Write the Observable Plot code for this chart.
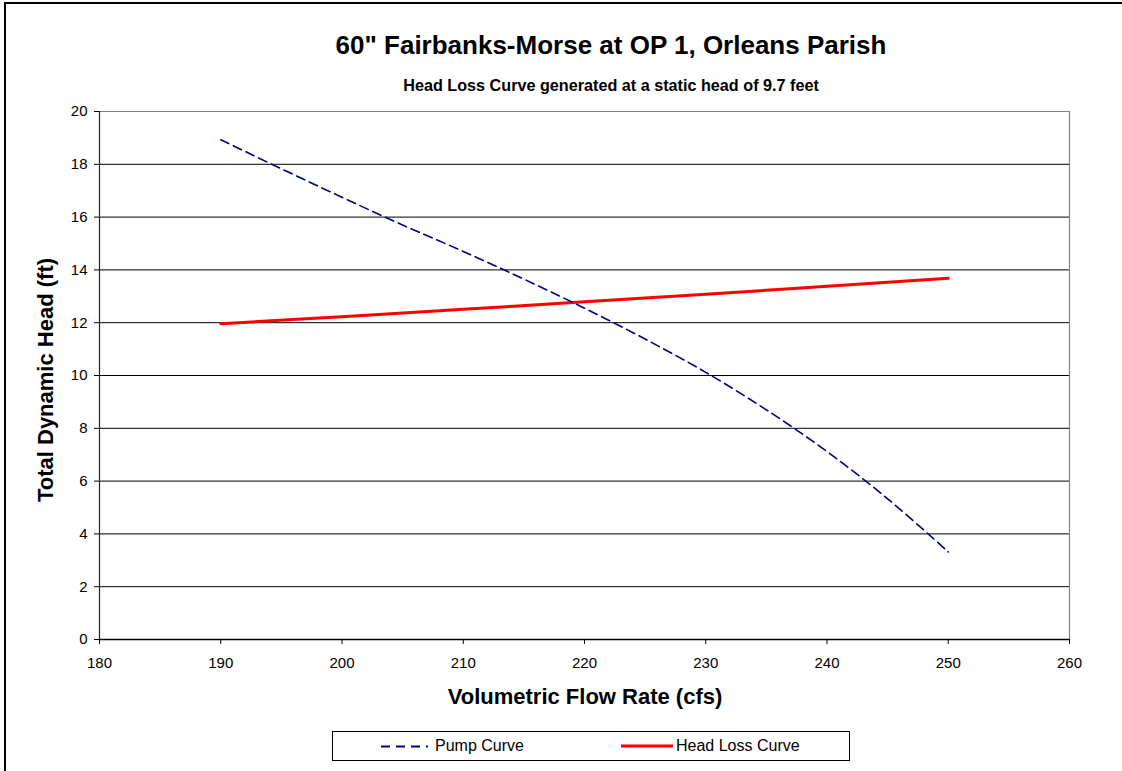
<!DOCTYPE html>
<html>
<head>
<meta charset="utf-8">
<script src="https://cdn.jsdelivr.net/npm/d3@7"></script>
<script src="https://cdn.jsdelivr.net/npm/@observablehq/plot@0.6"></script>
<style>
  html, body { margin: 0; padding: 0; background: #fff; overflow: hidden; }
  #wrap { position: relative; width: 1122px; height: 771px; font-family: "Liberation Sans", Arial, sans-serif; color: #000; overflow: hidden; }
  #frame { position: absolute; left: 4px; top: 2px; width: 1200px; height: 900px; border-top: 2px solid #000; border-left: 2px solid #000; }
  .title { position: absolute; left: 111px; width: 1000px; text-align: center; font-weight: bold; white-space: nowrap; }
  #t1 { top: 32px; font-size: 26px; line-height: 26px; }
  #t2 { top: 77px; font-size: 16.2px; line-height: 16px; }
  #xlab { position: absolute; left: 85px; width: 1000px; top: 686px; text-align: center; font-weight: bold; font-size: 22px; line-height: 22px; white-space: nowrap; }
  #ylab { position: absolute; left: -154px; top: 369px; width: 400px; height: 22px; text-align: center; font-weight: bold; font-size: 22px; line-height: 22px; transform: rotate(-90deg); white-space: nowrap; }
  #chart { position: absolute; left: 0; top: 95px; }
  #legend { position: absolute; left: 332px; top: 731px; width: 516px; height: 28px; border: 1px solid #000; font-size: 16px; }
  .lg { position: absolute; top: 0; height: 28px; line-height: 28px; white-space: nowrap; }
</style>
</head>
<body>
<div id="wrap">
  <div id="frame"></div>
  <div class="title" id="t1">60" Fairbanks-Morse at OP 1, Orleans Parish</div>
  <div class="title" id="t2">Head Loss Curve generated at a static head of 9.7 feet</div>
  <div id="chart"></div>
  <div id="xlab">Volumetric Flow Rate (cfs)</div>
  <div id="ylab">Total Dynamic Head (ft)</div>
  <div id="legend">
    <svg style="position:absolute;left:48px;top:0" width="48" height="28"><line x1="0" y1="14.5" x2="47" y2="14.5" stroke="#000080" stroke-width="1.8" stroke-dasharray="9,6"></line></svg>
    <div class="lg" style="left:102px">Pump Curve</div>
    <svg style="position:absolute;left:288px;top:0" width="52" height="28"><line x1="0" y1="14" x2="52" y2="14" stroke="#ff0000" stroke-width="3"></line></svg>
    <div class="lg" style="left:343px">Head Loss Curve</div>
  </div>
</div>
<script>
// Data
const xTicks = [180, 190, 200, 210, 220, 230, 240, 250, 260];
const yTicks = [0, 2, 4, 6, 8, 10, 12, 14, 16, 18, 20];

const pumpFlow = [190, 195, 200, 205, 210, 215, 220, 225, 230, 235, 240, 245, 250];
const pumpHead = [18.93, 17.83, 16.75, 15.7, 14.7, 13.65, 12.55, 11.38, 10.12, 8.7, 7.12, 5.33, 3.32];

const lossFlow = [190, 200, 210, 220, 230, 240, 250];
const lossHead = [11.96, 12.23, 12.51, 12.79, 13.08, 13.38, 13.68];

const pump = pumpFlow.map((f, i) => ({flow: f, head: pumpHead[i]}));
const loss = lossFlow.map((f, i) => ({flow: f, head: lossHead[i]}));

const chart = Plot.plot({
  width: 1122,
  height: 620,
  marginLeft: 99,
  marginRight: 53,
  marginTop: 16,
  marginBottom: 76,
  style: {fontFamily: '"Liberation Sans", Arial, sans-serif', fontSize: "15px", color: "#000", background: "transparent", overflow: "visible"},
  x: {domain: [180, 260], label: null},
  y: {domain: [0, 20], label: null},
  marks: [
    Plot.gridY(yTicks.filter(d => d > 0 && d < 20), {stroke: "#000", strokeOpacity: 1, strokeWidth: 1}),
    Plot.ruleY([20], {stroke: "#808080", strokeWidth: 1.2}),
    Plot.ruleX([260], {stroke: "#808080", strokeWidth: 1.2}),
    Plot.line(loss, {x: "flow", y: "head", stroke: "#ff0000", strokeWidth: 3, curve: "catmull-rom"}),
    Plot.line(pump, {x: "flow", y: "head", stroke: "#000080", strokeWidth: 1.6, strokeDasharray: "9,5", curve: "catmull-rom"}),
    Plot.axisY({ticks: yTicks, tickSize: 5, tickPadding: 7, fontSize: 15, label: null, stroke: "#000"}),
    Plot.axisX({ticks: xTicks, tickSize: 5, tickPadding: 13, fontSize: 15, label: null, stroke: "#000"}),
    Plot.ruleX([180], {stroke: "#222", strokeWidth: 1.2}),
    Plot.ruleY([0], {stroke: "#000", strokeWidth: 1.5})
  ]
});
document.getElementById("chart").appendChild(chart);
</script>
</body>
</html>
